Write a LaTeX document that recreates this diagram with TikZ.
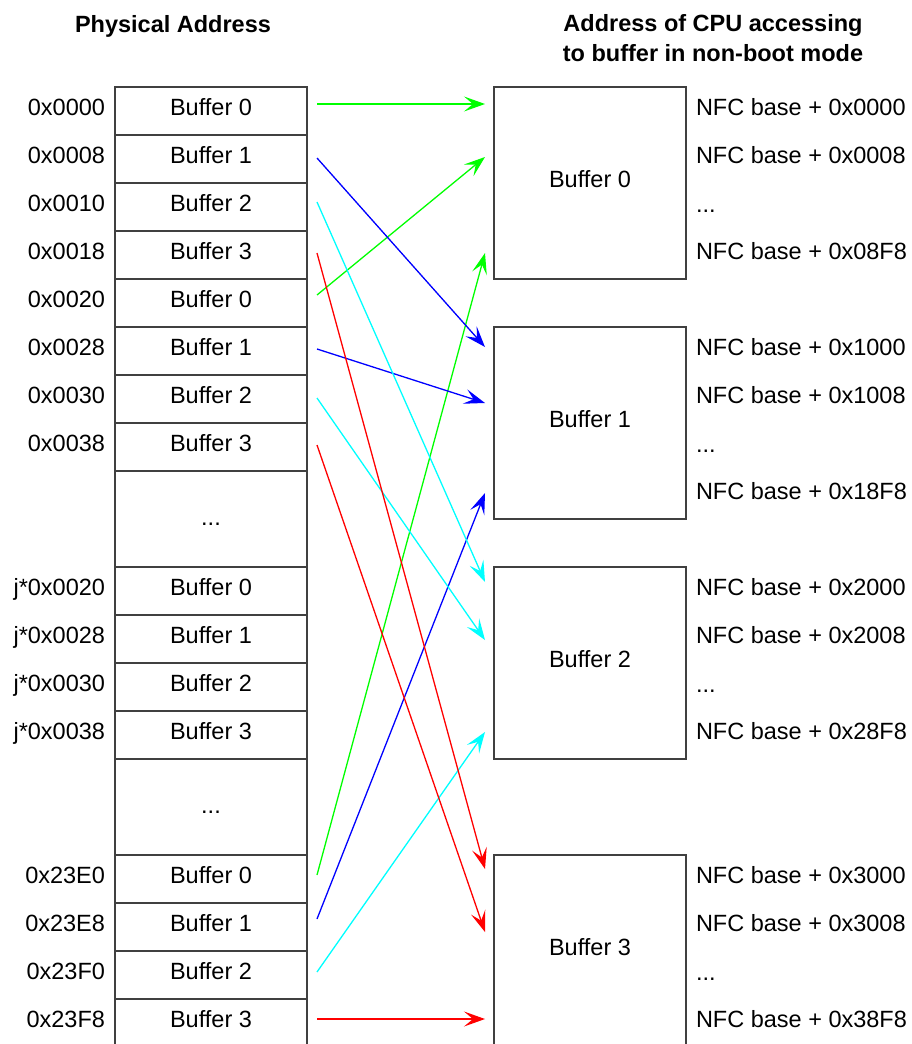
\documentclass[tikz,border=0pt]{standalone}
\usepackage{fontspec}
\setmainfont{Liberation Sans}
\usetikzlibrary{arrows.meta}
\begin{document}
\begin{tikzpicture}[x=1pt,y=-1pt,
  every node/.style={font=\fontsize{23.5}{28}\selectfont, inner sep=0pt, outer sep=0pt},
  cell/.style={draw=black!75, line width=1.6pt, minimum width=192pt, minimum height=48pt, text height=17pt, text depth=7.2pt},
  gapcell/.style={cell, minimum height=96pt, text height=19pt, text depth=5.2pt},
  bigbox/.style={cell, minimum height=192pt},
  addr/.style={anchor=east, text height=17pt, text depth=7.2pt},
  nfc/.style={anchor=west, text height=17pt, text depth=7.2pt},
  title/.style={anchor=base, font=\fontsize{23.5}{28}\selectfont\bfseries},
  link/.style={line width=1.3pt, -{Stealth[length=21pt, width=15pt, inset=9pt]}},
]
\clip (0,0) rectangle (911,1044);
\useasboundingbox (0,0) rectangle (911,1044);

% titles
\node[title] (t1) at (173,32) {Physical Address};
\node[title] (t2) at (713,31) {Address of CPU accessing};
\node[title] (t3) at (713,61) {to buffer in non-boot mode};

% left column
\node[cell] (L0) at (211,111) {Buffer 0};
\node[cell] (L1) at (211,159) {Buffer 1};
\node[cell] (L2) at (211,207) {Buffer 2};
\node[cell] (L3) at (211,255) {Buffer 3};
\node[cell] (L4) at (211,303) {Buffer 0};
\node[cell] (L5) at (211,351) {Buffer 1};
\node[cell] (L6) at (211,399) {Buffer 2};
\node[cell] (L7) at (211,447) {Buffer 3};
\node[gapcell] (G1) at (211,519) {...};
\node[cell] (L8) at (211,591) {Buffer 0};
\node[cell] (L9) at (211,639) {Buffer 1};
\node[cell] (L10) at (211,687) {Buffer 2};
\node[cell] (L11) at (211,735) {Buffer 3};
\node[gapcell] (G2) at (211,807) {...};
\node[cell] (L12) at (211,879) {Buffer 0};
\node[cell] (L13) at (211,927) {Buffer 1};
\node[cell] (L14) at (211,975) {Buffer 2};
\node[cell] (L15) at (211,1023) {Buffer 3};

% left address labels
\node[addr] (A0) at ([xshift=-10pt]L0.west) {0x0000};
\node[addr] (A1) at ([xshift=-10pt]L1.west) {0x0008};
\node[addr] (A2) at ([xshift=-10pt]L2.west) {0x0010};
\node[addr] (A3) at ([xshift=-10pt]L3.west) {0x0018};
\node[addr] (A4) at ([xshift=-10pt]L4.west) {0x0020};
\node[addr] (A5) at ([xshift=-10pt]L5.west) {0x0028};
\node[addr] (A6) at ([xshift=-10pt]L6.west) {0x0030};
\node[addr] (A7) at ([xshift=-10pt]L7.west) {0x0038};
\node[addr] (A8) at ([xshift=-10pt]L8.west) {j*0x0020};
\node[addr] (A9) at ([xshift=-10pt]L9.west) {j*0x0028};
\node[addr] (A10) at ([xshift=-10pt]L10.west) {j*0x0030};
\node[addr] (A11) at ([xshift=-10pt]L11.west) {j*0x0038};
\node[addr] (A12) at ([xshift=-10pt]L12.west) {0x23E0};
\node[addr] (A13) at ([xshift=-10pt]L13.west) {0x23E8};
\node[addr] (A14) at ([xshift=-10pt]L14.west) {0x23F0};
\node[addr] (A15) at ([xshift=-10pt]L15.west) {0x23F8};

% right boxes
\node[bigbox] (B0) at (590,183) {Buffer 0};
\node[bigbox] (B1) at (590,423) {Buffer 1};
\node[bigbox] (B2) at (590,663) {Buffer 2};
\node[bigbox] (B3) at (590,951) {Buffer 3};

% right labels
\node[nfc] (N00) at (696,111) {NFC base + 0x0000};
\node[nfc] (N01) at (696,159) {NFC base + 0x0008};
\node[nfc] (N02) at (696,208) {...};
\node[nfc] (N03) at (696,255) {NFC base + 0x08F8};
\node[nfc] (N10) at (696,351) {NFC base + 0x1000};
\node[nfc] (N11) at (696,399) {NFC base + 0x1008};
\node[nfc] (N12) at (696,448) {...};
\node[nfc] (N13) at (696,495) {NFC base + 0x18F8};
\node[nfc] (N20) at (696,591) {NFC base + 0x2000};
\node[nfc] (N21) at (696,639) {NFC base + 0x2008};
\node[nfc] (N22) at (696,688) {...};
\node[nfc] (N23) at (696,735) {NFC base + 0x28F8};
\node[nfc] (N30) at (696,879) {NFC base + 0x3000};
\node[nfc] (N31) at (696,927) {NFC base + 0x3008};
\node[nfc] (N32) at (696,976) {...};
\node[nfc] (N33) at (696,1023) {NFC base + 0x38F8};

% connector end points
\coordinate (s0) at (317,104);
\coordinate (s1) at (317,158);
\coordinate (s2) at (317,202);
\coordinate (s3) at (317,253);
\coordinate (s4) at (317,295);
\coordinate (s5) at (317,349);
\coordinate (s6) at (317,398);
\coordinate (s7) at (317,445);
\coordinate (s12) at (317,875);
\coordinate (s13) at (317,919);
\coordinate (s14) at (317,972);
\coordinate (s15) at (317,1019);

\coordinate (e0a) at (485,104);
\coordinate (e0b) at (485,157);
\coordinate (e0c) at (485,253);
\coordinate (e1a) at (485,347);
\coordinate (e1b) at (485,403);
\coordinate (e1c) at (485,493);
\coordinate (e2a) at (485,582);
\coordinate (e2b) at (485,640);
\coordinate (e2c) at (485,732);
\coordinate (e3a) at (485,869);
\coordinate (e3b) at (485,932);
\coordinate (e3c) at (485,1019);

% connectors
\draw[link, color={rgb,255:red,0;green,255;blue,0}] (s0) -- (e0a);
\draw[link, color={rgb,255:red,0;green,255;blue,0}] (s4) -- (e0b);
\draw[link, color={rgb,255:red,0;green,255;blue,0}] (s12) -- (e0c);
\draw[link, color={rgb,255:red,0;green,0;blue,255}] (s1) -- (e1a);
\draw[link, color={rgb,255:red,0;green,0;blue,255}] (s5) -- (e1b);
\draw[link, color={rgb,255:red,0;green,0;blue,255}] (s13) -- (e1c);
\draw[link, color={rgb,255:red,0;green,255;blue,255}] (s2) -- (e2a);
\draw[link, color={rgb,255:red,0;green,255;blue,255}] (s6) -- (e2b);
\draw[link, color={rgb,255:red,0;green,255;blue,255}] (s14) -- (e2c);
\draw[link, color={rgb,255:red,255;green,0;blue,0}] (s3) -- (e3a);
\draw[link, color={rgb,255:red,255;green,0;blue,0}] (s7) -- (e3b);
\draw[link, color={rgb,255:red,255;green,0;blue,0}] (s15) -- (e3c);
\end{tikzpicture}
\end{document}
